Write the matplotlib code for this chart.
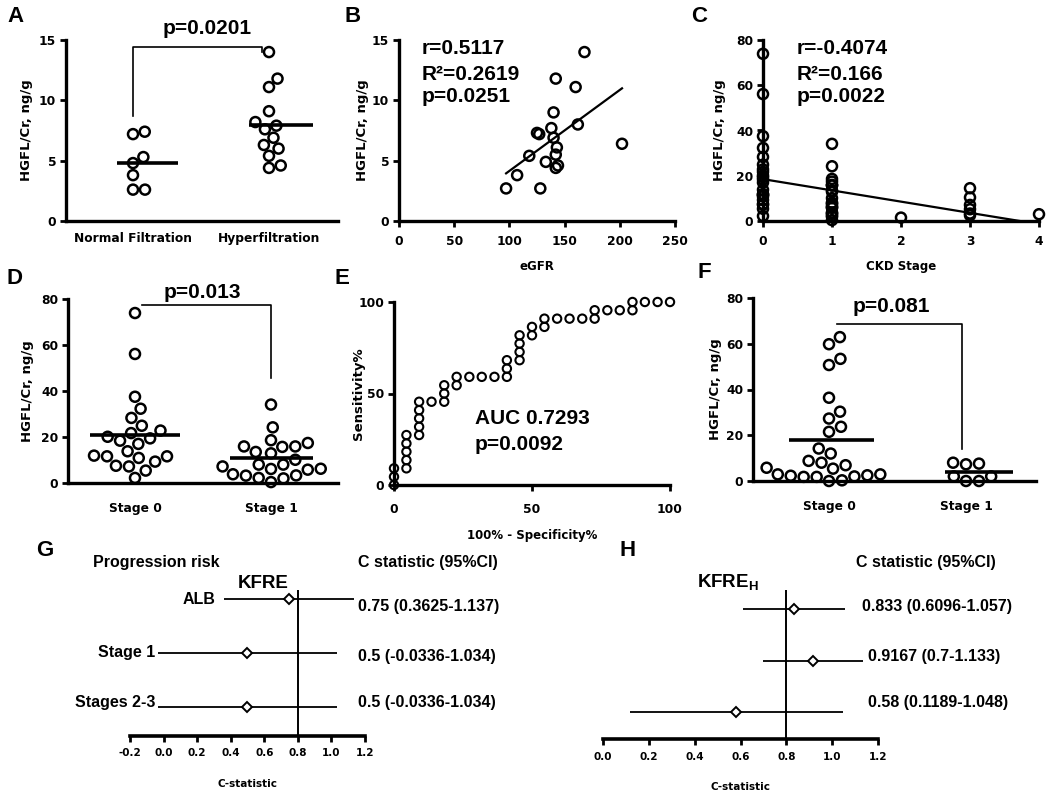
import numpy as np
import matplotlib
matplotlib.use('Agg')
import matplotlib.pyplot as plt
from matplotlib.ticker import FormatStrFormatter

# ---- values ----
# A: HGFL/Cr by filtration status
a_labels = ['Normal Filtration', 'Hyperfiltration']
a_normal = [7.2, 7.4, 5.3, 4.8, 3.8, 2.6, 2.6]
a_hyper = [14.0, 11.8, 11.1, 9.1, 8.2, 7.6, 7.9, 6.9, 6.3, 6.0, 5.4, 4.4, 4.6]

# B: HGFL/Cr vs eGFR
b_egfr = [97, 107, 118, 125, 127, 128, 133, 138, 140, 140, 142, 142, 143, 142, 144, 160, 162, 168, 202]
b_hgfl = [2.7, 3.8, 5.4, 7.3, 7.2, 2.7, 4.9, 7.7, 6.9, 9.0, 4.4, 11.8, 6.1, 5.5, 4.6, 11.1, 8.0, 14.0, 6.4]
b_fit = (0.0671, -2.56)  # slope, intercept

# D: HGFL/Cr by CKD stage (also the stage 0 / 1 columns of C)
d_labels = ['Stage 0', 'Stage 1']
d_stage0 = [73.9, 56.1, 37.5, 32.3, 28.3, 24.9, 21.7, 22.8, 19.4, 17.0, 18.4,
            20.1, 13.8, 11.6, 10.9, 9.3, 11.6, 11.9, 7.2, 7.5, 5.4, 2.2]
d_stage1 = [34.1, 24.2, 17.4, 15.9, 13.5, 15.7, 15.9, 12.9, 18.6, 10.1, 8.0,
            7.2, 8.0, 6.2, 5.8, 3.3, 2.2, 0.4, 2.0, 3.2, 3.8, 6.1]

# C: HGFL/Cr vs CKD stage
c_stage2 = [1.5]
c_stage3 = [14.5, 10.4, 7.1, 5.2, 3.3, 2.5]
c_stage4 = [3.0]
c_fit = (-4.97, 18.5)  # slope, intercept

# E: ROC curve
e_fpr = [0, 0, 0, 4.5, 4.5, 4.5, 4.5, 4.5, 9.1, 9.1, 9.1, 9.1, 9.1, 13.6, 18.2,
         18.2, 18.2, 22.7, 22.7, 27.3, 31.8, 36.4, 40.9, 40.9, 40.9, 45.5, 45.5,
         45.5, 45.5, 50.0, 50.0, 54.5, 54.5, 59.1, 63.6, 68.2, 72.7, 72.7, 77.3,
         81.8, 86.4, 86.4, 90.9, 95.5, 100]
e_tpr = [0, 4.5, 9.1, 9.1, 13.6, 18.2, 22.7, 27.3, 27.3, 31.8, 36.4, 40.9, 45.5,
         45.5, 45.5, 50.0, 54.5, 54.5, 59.1, 59.1, 59.1, 59.1, 59.1, 63.6, 68.2,
         68.2, 72.7, 77.3, 81.8, 81.8, 86.4, 86.4, 90.9, 90.9, 90.9, 90.9, 90.9,
         95.5, 95.5, 95.5, 95.5, 100, 100, 100, 100]

# F
f_stage0 = [62.9, 59.8, 53.4, 50.7, 36.4, 30.3, 27.3, 23.7, 21.5, 12.0, 14.2, 8.0, 6.9,
            8.8, 5.8, 5.4, 2.9, 2.5, 2.0, 1.8, 0.3, 0.0, 1.8, 2.3, 2.9]
f_stage1 = [7.6, 7.3, 8.0, 2.0, 0.0, 0.0, 2.0]

# G / H: C statistics
g_rows = ['ALB', 'Stage 1', 'Stages 2-3']
g_est = [0.75, 0.5, 0.5]
g_lo = [0.3625, -0.0336, -0.0336]
g_hi = [1.137, 1.034, 1.034]
h_est = [0.833, 0.9167, 0.58]
h_lo = [0.6096, 0.7, 0.1189]
h_hi = [1.057, 1.133, 1.048]
ref_c = 0.8

# ---- figure setup ----
plt.rcParams['font.family'] = ['DejaVu Sans']
plt.rcParams['font.weight'] = 'bold'
plt.rcParams['axes.labelweight'] = 'bold'
plt.rcParams['axes.unicode_minus'] = False

W, H = 1050, 794
fig = plt.figure(figsize=(W / 100, H / 100), dpi=100)
ANN = ['Liberation Sans', 'DejaVu Sans']


def rect(l, t, r, b):
    return [l / W, 1 - b / H, (r - l) / W, (b - t) / H]


def P(x, y):
    return x / W, 1 - y / H


def txt(x, y, s, size=15, ha='left', va='center'):
    fig.text(*P(x, y), s, fontsize=size, ha=ha, va=va, family=ANN, fontweight='bold')


def prism(ax):
    for s in ('top', 'right'):
        ax.spines[s].set_visible(False)
    for s in ('left', 'bottom'):
        ax.spines[s].set_linewidth(2.4)
    ax.tick_params(width=2, length=4, labelsize=8.8, pad=3)


def ylab(ax, box, s, xpx):
    l, t, r, b = box
    ax.set_ylabel(s, fontsize=9.5)
    ax.yaxis.set_label_coords((xpx - l) / (r - l), 0.5)


def swarm(ax, pos, vals, gap):
    # spread points sideways so circles of `gap` px never overlap
    vals = np.asarray(vals, float)
    disp = ax.transData.transform(np.column_stack([np.full(len(vals), pos), vals]))
    x0, ys = disp[0, 0], disp[:, 1]
    offs = np.zeros(len(vals))
    done = []
    for i in np.argsort(ys):
        cands = [0.0]
        for j in done:
            dy = ys[i] - ys[j]
            if abs(dy) < gap:
                dx = np.sqrt(gap ** 2 - dy ** 2)
                cands += [offs[j] + dx, offs[j] - dx]
        for c in sorted(cands, key=abs):
            if all((c - offs[j]) ** 2 + (ys[i] - ys[j]) ** 2 >= gap ** 2 - 1e-6 for j in done):
                offs[i] = c
                break
        done.append(i)
    back = ax.transData.inverted().transform(np.column_stack([x0 + offs, ys]))
    return back[:, 0]


def circles(ax, x, y, s=52, lw=1.8):
    ax.scatter(x, y, s=s, facecolors='none', edgecolors='black', linewidths=lw,
               clip_on=False, zorder=3)


def dot_panel(box, cats_px, groups, labels, ymax, yticks, ext, pad, gap=13):
    l, t, r, b = box
    ax = fig.add_axes(rect(*box))
    u = cats_px[1] - cats_px[0]
    ax.set_xlim(-(cats_px[0] - l) / u, 1 + (r - cats_px[1]) / u)
    ax.set_ylim(0, ymax)
    prism(ax)
    for i, vals in enumerate(groups):
        circles(ax, swarm(ax, i, vals, gap), vals)
        m = np.mean(vals)
        ax.plot([i + ext[i][0], i + ext[i][1]], [m, m], color='black', lw=2.6,
                zorder=4, solid_capstyle='butt')
    ax.set_xticks([0, 1], labels)
    ax.set_yticks(yticks)
    ax.tick_params(axis='x', length=0, pad=pad, labelsize=8.8)
    return ax


# ---- A ----
boxA = (66, 40, 338, 221)
axA = dot_panel(boxA, (133, 269), [a_normal, a_hyper], a_labels, 15, [0, 5, 10, 15],
                [(-0.12, 0.33), (-0.15, 0.32)], 8, gap=12)
axA.plot([0, 0, 0.95, 0.95], [8.7, 14.4, 14.4, 14.0], color='black', lw=1.2, clip_on=False)
ylab(axA, boxA, 'HGFL/Cr, ng/g', 33)
txt(207, 28, 'p=0.0201', ha='center')

# ---- B ----
boxB = (399, 40, 675, 221)
axB = fig.add_axes(rect(*boxB))
axB.set_xlim(0, 250)
axB.set_ylim(0, 15)
prism(axB)
circles(axB, b_egfr, b_hgfl)
xx = np.array([min(b_egfr), max(b_egfr)])
axB.plot(xx, b_fit[0] * xx + b_fit[1], color='black', lw=1.6)
axB.set_xticks([0, 50, 100, 150, 200, 250])
axB.set_yticks([0, 5, 10, 15])
axB.tick_params(axis='x', pad=6)
axB.set_xlabel('eGFR', fontsize=8.5, labelpad=9)
ylab(axB, boxB, 'HGFL/Cr, ng/g', 369)
txt(422, 48, 'r=0.5117')
txt(422, 74, 'R²=0.2619')
txt(422, 97, 'p=0.0251')

# ---- C ----
boxC = (763, 40, 1039, 221)
axC = fig.add_axes(rect(*boxC))
axC.set_xlim(0, 4)
axC.set_ylim(0, 80)
prism(axC)
c_groups = [d_stage0, d_stage1, c_stage2, c_stage3, c_stage4]
for k, vals in enumerate(c_groups):
    circles(axC, [k] * len(vals), vals)
x_end = -c_fit[1] / c_fit[0]
axC.plot([0, x_end], [c_fit[1], 0], color='black', lw=1.6, zorder=4)
axC.set_xticks([0, 1, 2, 3, 4])
axC.set_yticks([0, 20, 40, 60, 80])
axC.tick_params(axis='x', pad=6)
axC.set_xlabel('CKD Stage', fontsize=8.5, labelpad=9)
ylab(axC, boxC, 'HGFL/Cr, ng/g', 726)
txt(797, 48, 'r=-0.4074')
txt(797, 74, 'R²=0.166')
txt(797, 97, 'p=0.0022')

# ---- D ----
boxD = (68, 299, 338, 483)
axD = dot_panel(boxD, (135, 271), [d_stage0, d_stage1], d_labels, 80, [0, 20, 40, 60, 80],
                [(-0.33, 0.33), (-0.3, 0.31)], 14)
axD.plot([0.05, 1, 1], [77.5, 77.5, 45.6], color='black', lw=1.2, clip_on=False)
ylab(axD, boxD, 'HGFL/Cr, ng/g', 34)
txt(202, 292, 'p=0.013', ha='center')

# ---- E ----
boxE = (394, 302, 670, 485)
axE = fig.add_axes(rect(*boxE))
axE.set_xlim(0, 100)
axE.set_ylim(0, 100)
prism(axE)
circles(axE, e_fpr, e_tpr, s=36, lw=1.5)
axE.set_xticks([0, 50, 100])
axE.set_yticks([0, 50, 100])
axE.tick_params(axis='x', pad=9)
axE.set_xlabel('100% - Specificity%', fontsize=8.5, labelpad=9)
ylab(axE, boxE, 'Sensitivity%', 365)
txt(475, 418, 'AUC 0.7293')
txt(475, 445, 'p=0.0092')

# ---- F ----
boxF = (753, 298, 1036, 481)
axF = dot_panel(boxF, (829, 966), [f_stage0, f_stage1], d_labels, 80, [0, 20, 40, 60, 80],
                [(-0.29, 0.33), (-0.15, 0.34)], 14)
axF.plot([0.06, 0.97, 0.97], [68.7, 68.7, 14.0], color='black', lw=1.2, clip_on=False)
ylab(axF, boxF, 'HGFL/Cr, ng/g', 722)
txt(891, 307, 'p=0.081', ha='center')


# ---- G / H forest plots ----
def forest(box, est, lo, hi, xlim, ylim, xticks, labelpad):
    ax = fig.add_axes(rect(*box))
    rows = np.arange(len(est))
    ax.hlines(rows, lo, hi, colors='black', lw=1.3)
    ax.plot(est, rows, 'D', ms=5, mfc='white', mec='black', mew=1.4, zorder=3)
    ax.axvline(ref_c, color='black', lw=1.4)
    ax.set_xlim(xlim)
    ax.set_ylim(ylim)
    for s in ('top', 'right', 'left'):
        ax.spines[s].set_visible(False)
    ax.spines['bottom'].set_linewidth(2.6)
    ax.set_yticks([])
    ax.set_xticks(xticks)
    ax.xaxis.set_major_formatter(FormatStrFormatter('%.1f'))
    ax.tick_params(axis='x', width=2, length=4, labelsize=7.5, pad=5)
    ax.set_xlabel('C-statistic', fontsize=7.5, labelpad=labelpad)
    return ax


def ci_text(e, l, h):
    return f'{e} ({l}-{h})'


axG = forest((130, 590, 365, 736), g_est, g_lo, g_hi, (-0.2, 1.2), (2.54, -0.17),
             np.arange(-0.2, 1.21, 0.2), 15)
txt(45, 551, 'G', size=16, ha='center')
txt(93, 563, 'Progression risk', size=11.5)
txt(358, 563, 'C statistic (95%CI)', size=11.5)
txt(263, 583, 'KFRE', size=13.5, ha='center')
for lab, xr, yy in zip(g_rows, [215, 155, 155], [600, 652, 702]):
    txt(xr, yy, lab, size=11.5, ha='right')
for e, l, h, yy in zip(g_est, g_lo, g_hi, [607, 656, 703]):
    txt(358, yy, ci_text(e, l, h), size=11.5)

axH = forest((603, 590, 878, 739), h_est, h_lo, h_hi, (0, 1.2), (2.52, -0.37),
             np.arange(0, 1.21, 0.2), 15)
txt(628, 550, 'H', size=16, ha='center')
txt(856, 563, 'C statistic (95%CI)', size=11.5)
txt(728, 583, r'KFRE$_{\mathregular{H}}$', size=13.5, ha='center')
for e, l, h, xx_, yy in zip(h_est, h_lo, h_hi, [862, 868, 868], [607, 656, 703]):
    txt(xx_, yy, ci_text(e, l, h), size=11.5)

# panel letters
for lab, x, y in [('A', 16, 17), ('B', 353, 16), ('C', 699, 16),
                  ('D', 15, 278), ('E', 342, 278), ('F', 704, 273)]:
    txt(x, y, lab, size=16, ha='center')

fig.savefig('out.png', dpi=100)
